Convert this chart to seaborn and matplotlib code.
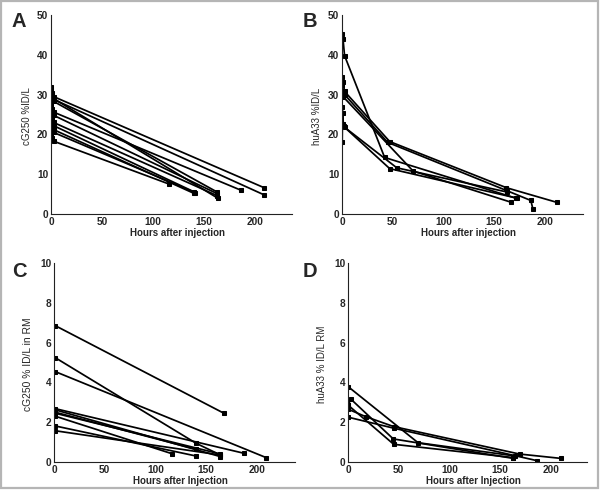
import numpy as np
import pandas as pd
import matplotlib
matplotlib.use("Agg")
import matplotlib.pyplot as plt
import seaborn as sns
from matplotlib.patches import Rectangle

# ---------------- data ----------------
# Panel A: cG250 %ID/L
A_patient = [1,1,1,1, 2,2,2,2, 3,3,3,3, 4,4,4,4, 5,5,5,5, 6,6,6,6, 7,7,7,7, 8,8,8,8, 9,9,9,9, 10,10,10,10, 11,11,11,11]
A_hours = [0.3,1.0,2.5,209, 0.3,1.0,2.5,209, 0.3,1.0,2.5,186, 0.3,1.0,2.5,164, 0.3,1.0,2.5,163,
           0.3,1.0,2.5,163, 0.3,1.0,2.5,140, 0.3,1.0,2.5,140, 0.3,1.0,2.5,116, 0.3,1.0,2.5,163, 0.3,1.0,2.5,141]
A_values = [32.0,30.5,29.5,6.6, 31.2,29.8,28.8,4.8, 27.5,26.5,25.6,6.0, 30.5,29.5,29.0,3.9, 30.0,29.0,28.3,5.5,
            25.0,24.0,23.0,4.6, 24.0,23.0,22.2,5.6, 22.5,21.8,21.2,5.2, 20.0,19.0,18.3,7.5, 26.5,25.5,24.8,5.1, 23.5,22.5,20.5,5.4]

# Panel B: huA33 %ID/L
B_patient = [1,1,1,1,1, 2,2,2,2,2,2, 3,3,3,3,3,3,3, 4,4,4,4, 5,5,5,5,5,5, 6,6,6,6]
B_hours = [0.3,1.0,2.5,42,171, 0.3,1.0,2.5,47,162,212, 0.3,1.0,2.5,45,163,186,188, 0.3,1.0,70,166,
           0.2,0.5,1.0,2.5,47,172, 0.3,1.5,54,163]
B_values = [45.2,44.0,39.8,14.2,4.0, 34.5,33.2,30.8,18.2,6.6,2.9, 32.5,30.5,30.0,18.0,5.8,3.4,1.3, 30.8,29.5,10.8,3.0,
            18.0,25.5,22.5,21.8,11.4,4.0, 27.0,22.0,11.6,5.5]

# Panel C: cG250 % ID/L in RM
C_patient = [1,1, 2,2,2, 3,3, 4,4, 5,5, 6,6, 7,7, 8,8, 9,9, 10,10]
C_hours = [1.3,167, 1.3,140,164, 1.3,209, 1.3,187, 1.3,164, 1.3,140, 1.3,164, 1.3,116, 1.3,140, 1.3,164]
C_values = [6.85,2.46, 5.24,0.94,0.35, 4.54,0.22, 2.68,0.44, 2.62,0.27, 2.50,0.64, 2.45,0.40, 2.30,0.42, 1.81,0.30, 1.57,0.35]

# Panel D: huA33 % ID/L RM
D_patient = [1,1,1, 2,2,2,2, 3,3,3,3,3, 4,4,4, 5,5,5]
D_hours = [0.3,69,165, 0.3,2.6,44.6,163, 0.3,17.4,45,169,210, 0.3,45,163, 0.3,45,186]
D_values = [3.78,0.97,0.30, 2.85,3.17,1.16,0.18, 2.65,2.28,1.78,0.40,0.18, 2.85,0.89,0.22, 2.25,1.70,0.07]

panel_letters = ["A", "B", "C", "D"]
y_labels = ["cG250 %ID/L", "huA33 %ID/L", "cG250 % ID/L in RM", "huA33 % ID/L RM"]
x_labels = ["Hours after injection", "Hours after injection", "Hours after Injection", "Hours after Injection"]
x_ticks = [0, 50, 100, 150, 200]
y_ticks_top = [0, 10, 20, 30, 40, 50]
y_ticks_bottom = [0, 2, 4, 6, 8, 10]

# ---------------- style ----------------
sns.set_style("white")
plt.rcParams["font.family"] = ["Liberation Sans", "DejaVu Sans"]

W, H = 600, 497
fig = plt.figure(figsize=(W / 100, H / 100), dpi=100)

def ax_at(left, right, top, bottom):
    return fig.add_axes([left / W, 1 - bottom / H, (right - left) / W, (bottom - top) / H])

axes = [ax_at(51, 292, 15, 214), ax_at(342, 583, 15, 214),
        ax_at(54, 295, 263, 462), ax_at(348, 587, 263, 462)]
datasets = [(A_patient, A_hours, A_values), (B_patient, B_hours, B_values),
            (C_patient, C_hours, C_values), (D_patient, D_hours, D_values)]
xlims = [236.3, 237.4, 237.4, 235.5]
ylims = [50, 50, 10, 10]
ylabel_sizes = [7.0, 7.0, 7.4, 7.0]
ylabel_x = [-0.079, -0.084, -0.087, -0.089]

for i, ax in enumerate(axes):
    pid, hrs, vals = datasets[i]
    df = pd.DataFrame({"patient": pid, "hours": hrs, "value": vals})
    sns.lineplot(data=df, x="hours", y="value", units="patient", estimator=None, sort=False,
                 color="black", lw=1.25, marker="s", markersize=2.4, markeredgecolor="black",
                 ax=ax, legend=False)
    ax.set_xlim(0, xlims[i])
    ax.set_ylim(0, ylims[i])
    ax.set_xticks(x_ticks)
    ax.set_yticks(y_ticks_top if i < 2 else y_ticks_bottom)
    for s in ["top", "right"]:
        ax.spines[s].set_visible(False)
    for s in ["left", "bottom"]:
        ax.spines[s].set_linewidth(0.8)
        ax.spines[s].set_color("#222222")
    ax.tick_params(direction="in", length=3, width=0.8, color="#222222", pad=2)
    for lab in ax.get_xticklabels() + ax.get_yticklabels():
        lab.set_fontweight("bold")
        lab.set_fontsize(7.3)
    ax.set_xlabel(x_labels[i], fontsize=7.0, fontweight="bold")
    ax.set_ylabel(y_labels[i], fontsize=ylabel_sizes[i])
    ax.xaxis.set_label_coords(0.524, -0.07)
    ax.yaxis.set_label_coords(ylabel_x[i], 0.49)
    ax.patch.set_alpha(0)

letter_pos = [(12, 12), (303, 12), (12, 262), (303, 262)]
for (lx, ly), letter in zip(letter_pos, panel_letters):
    fig.text(lx / W, 1 - ly / H, letter, fontsize=14.5, fontweight="bold", va="top", ha="left")

fig.patches.append(Rectangle((0.5 / W, (H - 488) / H), 597 / W, 487 / H, transform=fig.transFigure,
                             fill=False, edgecolor="#b5b5b5", lw=1.6))

fig.savefig("out.png", dpi=100)
